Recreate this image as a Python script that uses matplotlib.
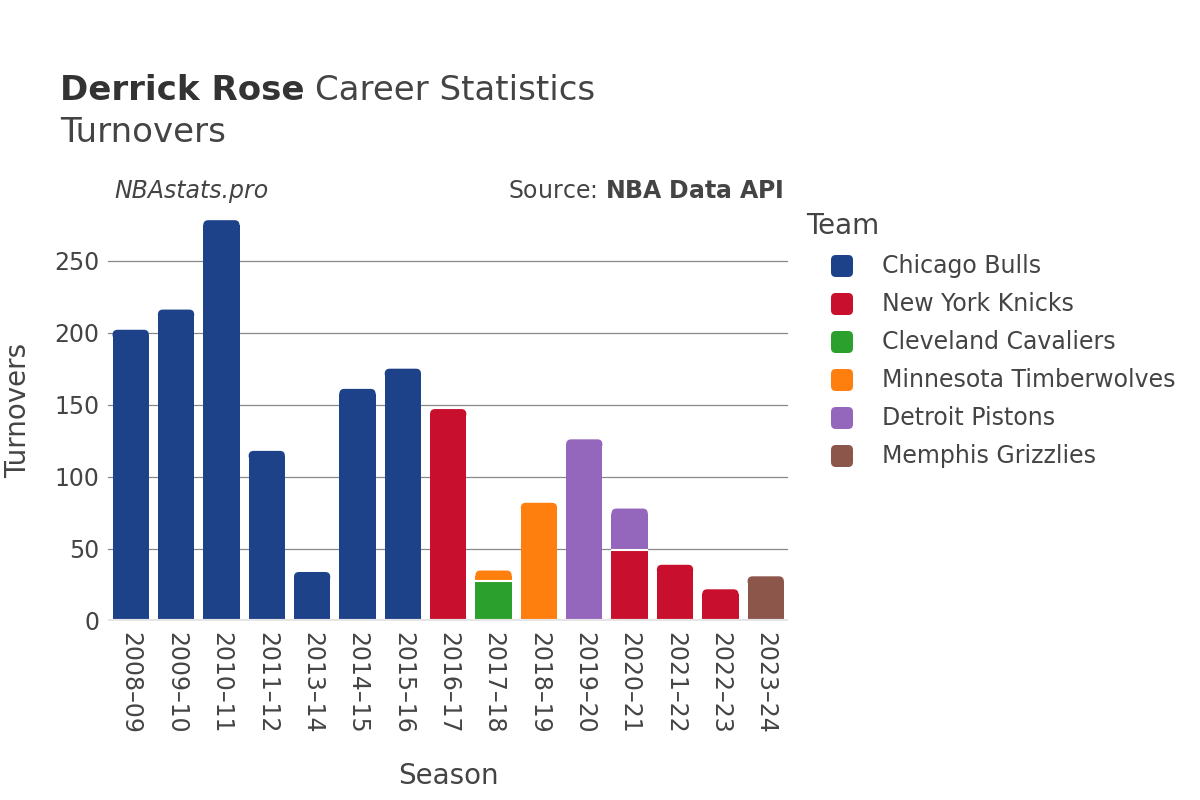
import matplotlib
matplotlib.use("Agg")
import matplotlib.pyplot as plt
from matplotlib.patches import FancyBboxPatch
import numpy as np

seasons = ["2008–09", "2009–10", "2010–11", "2011–12", "2013–14", "2014–15",
           "2015–16", "2016–17", "2017–18", "2018–19", "2019–20", "2020–21",
           "2021–22", "2022–23", "2023–24"]

teams = ["Chicago Bulls", "New York Knicks", "Cleveland Cavaliers",
         "Minnesota Timberwolves", "Detroit Pistons", "Memphis Grizzlies"]
team_colors = ["#1d428a", "#c8102e", "#2ca02c", "#ff7f0e", "#9467bd", "#8c564b"]

# turnovers per season, one list per team (0 = did not play for that team)
chicago   = [202, 216, 278, 118, 34, 161, 175, 0, 0, 0, 0, 0, 0, 0, 0]
new_york  = [0, 0, 0, 0, 0, 0, 0, 147, 0, 0, 0, 49, 39, 22, 0]
cleveland = [0, 0, 0, 0, 0, 0, 0, 0, 28, 0, 0, 0, 0, 0, 0]
minnesota = [0, 0, 0, 0, 0, 0, 0, 0, 7, 82, 0, 0, 0, 0, 0]
detroit   = [0, 0, 0, 0, 0, 0, 0, 0, 0, 0, 126, 29, 0, 0, 0]
memphis   = [0, 0, 0, 0, 0, 0, 0, 0, 0, 0, 0, 0, 0, 0, 31]

series = [chicago, new_york, cleveland, minnesota, detroit, memphis]

txt = "#444444"
plt.rcParams['font.family'] = ['DejaVu Sans']

W, H = 1200, 800
fig = plt.figure(figsize=(12, 8), dpi=100)
ax = fig.add_axes([0.09, 0.22375, 0.567, 0.52625])
ymax = 292
ax.set_xlim(-0.5, len(seasons) - 0.5)
ax.set_ylim(0, ymax)

# rounded top corners: radius in pixels -> data units
r_px = 5
px_x = 0.567 * W / len(seasons)
px_y = 0.52625 * H / ymax
rx = r_px / px_x
ry = r_px / px_y
bw = 0.8

x = np.arange(len(seasons))
totals = np.sum(np.array(series, dtype=float), axis=0)
bottom = np.zeros(len(seasons))
for vals, col in zip(series, team_colors):
    vals = np.array(vals, dtype=float)
    for i in range(len(seasons)):
        v = vals[i]
        if v <= 0:
            continue
        b = bottom[i]
        top = b + v
        if np.isclose(top, totals[i]):
            # top segment: square lower part + rounded cap
            ax.bar(x[i], max(v - ry, 0), width=bw, bottom=b, color=col,
                   linewidth=0, zorder=3)
            cap_h = min(2 * ry, v)
            ax.add_patch(FancyBboxPatch((x[i] - bw / 2, top - cap_h), bw, cap_h,
                                        boxstyle="round,pad=0,rounding_size=%f" % rx,
                                        mutation_aspect=ry / rx, facecolor=col,
                                        linewidth=0, zorder=3))
        else:
            ax.bar(x[i], v, width=bw, bottom=b, color=col, linewidth=0, zorder=3)
            ax.hlines(top, x[i] - bw / 2, x[i] + bw / 2, color="white",
                      linewidth=1.5, zorder=5)
    bottom += vals

ax.set_yticks([0, 50, 100, 150, 200, 250])
ax.grid(axis="y", color="#888888", linewidth=0.9, zorder=0)
ax.axhline(0, color="#e5e5e5", linewidth=3, zorder=4)
for s in ax.spines.values():
    s.set_visible(False)

ax.set_xticks(x)
ax.set_xticklabels(seasons, rotation=-90, fontsize=17, color=txt)
ax.tick_params(axis="y", labelsize=17, labelcolor=txt, length=0, pad=6)
ax.tick_params(axis="x", length=0, pad=8)

ax.set_xlabel("Season", fontsize=20, color=txt, labelpad=20)
ax.set_ylabel("Turnovers", fontsize=20, color=txt, labelpad=16)

# title
t1 = fig.text(0.05, 0.875, "Derrick Rose", fontsize=24.5, fontweight="bold",
              color="#333333", va="baseline", ha="left")
fig.canvas.draw()
bb = t1.get_window_extent()
fig.text(bb.x1 / W + 0.009, 0.875, "Career Statistics", fontsize=24.5,
         color=txt, va="baseline", ha="left")
fig.text(0.05, 0.822, "Turnovers", fontsize=24.5, color=txt,
         va="baseline", ha="left")

fig.text(0.095, 0.753, "NBAstats.pro", fontsize=17, style="italic",
         color=txt, va="baseline", ha="left")
fig.text(0.653, 0.753, r"Source: $\bf{NBA\ Data\ API}$", fontsize=17,
         color=txt, va="baseline", ha="right")

# legend
fig.text(806 / W, 1 - 226 / H, "Team", fontsize=20, color=txt,
         va="center", ha="left")
for k, (name, col) in enumerate(zip(teams, team_colors)):
    yc = 266 + 38 * k
    fig.patches.append(FancyBboxPatch((831 / W, 1 - (yc + 11) / H), 22 / W, 22 / H,
                                      boxstyle="round,pad=0,rounding_size=0.004",
                                      mutation_aspect=W / H,
                                      transform=fig.transFigure, facecolor=col,
                                      linewidth=0, figure=fig))
    fig.text(882 / W, 1 - yc / H, name, fontsize=17, color=txt,
             va="center", ha="left")

fig.savefig("out.png", dpi=100)
